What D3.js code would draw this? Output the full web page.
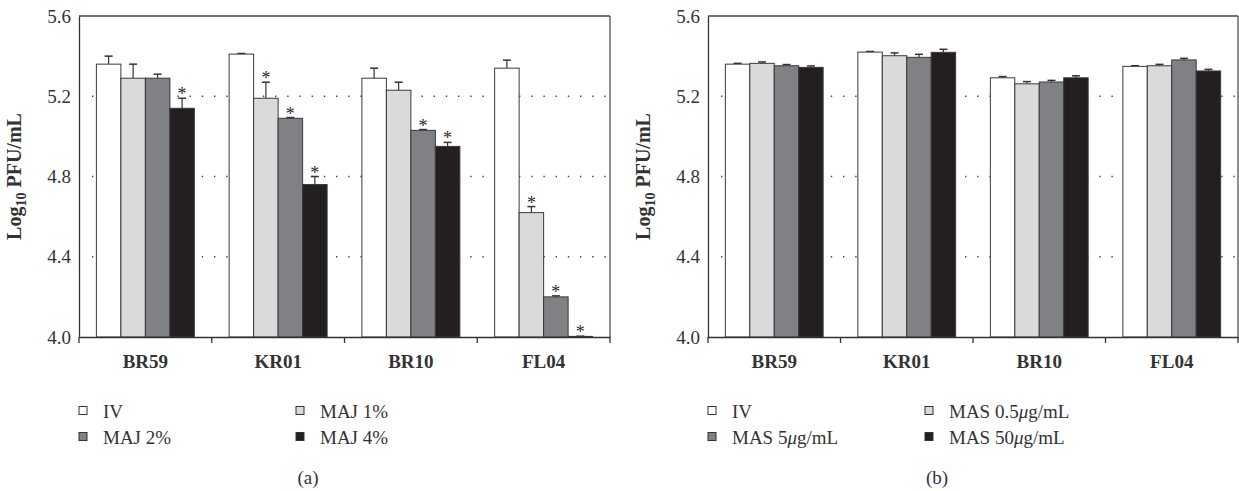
<!DOCTYPE html>
<html>
<head>
<meta charset="utf-8">
<script src="https://cdn.jsdelivr.net/npm/d3@7"></script>
<style>
  body { margin: 0; background: #fff; }
  svg { font-family: "Liberation Serif", "Times New Roman", serif; }
</style>
</head>
<body>
<svg id="chart" width="1239" height="491"></svg>
<script>
// strains on the x axis
var categories = ["BR59", "KR01", "BR10", "FL04"];
var yTicks = [4.0, 4.4, 4.8, 5.2, 5.6];

// panel (a): MAJ treatment
var seriesA = ["IV", "MAJ 1%", "MAJ 2%", "MAJ 4%"];
var valuesA = [
  [5.36, 5.29, 5.29, 5.14],
  [5.41, 5.19, 5.09, 4.76],
  [5.29, 5.23, 5.03, 4.95],
  [5.34, 4.62, 4.20, 4.003]
];
var errorsA = [
  [0.04, 0.07, 0.02, 0.05],
  [0.003, 0.08, 0.004, 0.04],
  [0.05, 0.04, 0.004, 0.02],
  [0.04, 0.03, 0.005, 0.001]
];
var starsA = [
  [0, 0, 0, 1],
  [0, 1, 1, 1],
  [0, 0, 1, 1],
  [0, 1, 1, 1]
];

// panel (b): MAS treatment
var seriesB = ["IV", "MAS 0.5\u03bcg/mL", "MAS 5\u03bcg/mL", "MAS 50\u03bcg/mL"];
var valuesB = [
  [5.360, 5.364, 5.352, 5.344],
  [5.420, 5.402, 5.394, 5.419],
  [5.292, 5.262, 5.271, 5.292],
  [5.349, 5.352, 5.381, 5.326]
];
var errorsB = [
  [0.004, 0.007, 0.006, 0.007],
  [0.003, 0.014, 0.015, 0.015],
  [0.006, 0.011, 0.008, 0.010],
  [0.003, 0.007, 0.008, 0.008]
];

var colors = ["#ffffff", "#d9dadc", "#808184", "#231f20"];

var svg = d3.select("#chart");

function panel(left, right, series, values, errors, stars, caption) {
  var top = 16, bottom = 337;
  var g = svg.append("g");

  var y = d3.scaleLinear().domain([4.0, 5.6]).range([bottom, top]);
  var x0 = d3.scaleBand().domain(categories).range([left, right]);
  var x1 = d3.scaleBand().domain(d3.range(series.length))
    .range([0, x0.bandwidth()]).paddingInner(0).paddingOuter(0.71);

  // dotted grid lines
  g.selectAll(".grid").data(yTicks.slice(1, 4)).enter().append("line")
    .attr("x1", left + 13).attr("x2", right)
    .attr("y1", function (d) { return y(d); })
    .attr("y2", function (d) { return y(d); })
    .attr("stroke", "#444").attr("stroke-width", 1.4)
    .attr("stroke-dasharray", "1.4,10.8");

  // bars
  var groups = g.selectAll(".grp").data(values).enter().append("g")
    .attr("transform", function (d, i) { return "translate(" + x0(categories[i]) + ",0)"; });

  groups.each(function (vals, ci) {
    var gg = d3.select(this);
    vals.forEach(function (v, si) {
      var bx = x1(si), bw = x1.bandwidth();
      var errTop = y(v + errors[ci][si]);
      // error bar
      gg.append("line")
        .attr("x1", bx + bw / 2).attr("x2", bx + bw / 2)
        .attr("y1", y(v)).attr("y2", errTop)
        .attr("stroke", "#333").attr("stroke-width", 1.2);
      gg.append("line")
        .attr("x1", bx + bw / 2 - 4).attr("x2", bx + bw / 2 + 4)
        .attr("y1", errTop).attr("y2", errTop)
        .attr("stroke", "#333").attr("stroke-width", 1.5);
      gg.append("rect")
        .attr("x", bx).attr("width", bw)
        .attr("y", y(v)).attr("height", Math.max(0, bottom - y(v)))
        .attr("fill", colors[si])
        .attr("stroke", "#3a3a3a").attr("stroke-width", 1);
      if (stars && stars[ci][si]) {
        gg.append("text")
          .attr("x", bx + bw / 2).attr("y", errTop + 2)
          .attr("text-anchor", "middle")
          .attr("font-size", 18).attr("fill", "#2a2a2a")
          .text("*");
      }
    });
  });

  // frame: top and right
  g.append("line").attr("x1", left).attr("x2", right).attr("y1", top).attr("y2", top)
    .attr("stroke", "#444").attr("stroke-width", 1.5);
  g.append("line").attr("x1", right).attr("x2", right).attr("y1", top).attr("y2", bottom)
    .attr("stroke", "#444").attr("stroke-width", 1.2);

  // y axis
  var yAxis = d3.axisLeft(y).tickValues(yTicks).tickSize(0).tickPadding(8)
    .tickFormat(d3.format(".1f"));
  var ya = g.append("g").attr("transform", "translate(" + left + ",0)").call(yAxis);
  ya.select(".domain").attr("stroke", "#333").attr("stroke-width", 1.3);
  ya.selectAll("text").attr("font-size", 19).attr("fill", "#333")
    .attr("font-family", "Liberation Serif, serif");

  // x axis
  var xAxis = d3.axisBottom(x0).tickSize(0);
  var xa = g.append("g").attr("transform", "translate(0," + bottom + ")").call(xAxis);
  xa.select(".domain").attr("stroke", "#333").attr("stroke-width", 1.5);
  xa.selectAll("text").attr("font-size", 19).attr("font-weight", "bold").attr("fill", "#333")
    .attr("font-family", "Liberation Serif, serif").attr("y", 31).attr("dy", 0);
  // boundary ticks
  var bounds = categories.map(function (c) { return x0(c); }).concat([right]);
  xa.selectAll(".bt").data(bounds).enter().append("line")
    .attr("x1", function (d) { return d; }).attr("x2", function (d) { return d; })
    .attr("y1", 0).attr("y2", 6).attr("stroke", "#333").attr("stroke-width", 1.3);

  // y title
  var yt = g.append("text")
    .attr("transform", "translate(" + (left - 58) + "," + ((top + bottom) / 2) + ") rotate(-90)")
    .attr("text-anchor", "middle").attr("font-size", 20).attr("font-weight", "bold")
    .attr("fill", "#333");
  yt.append("tspan").text("Log");
  yt.append("tspan").attr("font-size", 14).attr("dy", 5).text("10");
  yt.append("tspan").attr("dy", -5).text(" PFU/mL");

  // legend
  var order = [[0, 2], [1, 3]];
  var cols = [left, left + 217];
  var rows = [411, 437];
  order.forEach(function (col, c) {
    col.forEach(function (si, r) {
      g.append("rect").attr("x", cols[c]).attr("y", rows[r] - 4.5)
        .attr("width", 8).attr("height", 8)
        .attr("fill", colors[si]).attr("stroke", "#333").attr("stroke-width", 1);
      var t = g.append("text").attr("x", cols[c] + 24).attr("y", rows[r] + 6.5)
        .attr("font-size", 19).attr("fill", "#333");
      // the micro sign is set in italics
      series[si].split(/(\u03bc)/).forEach(function (part) {
        if (!part) return;
        t.append("tspan").attr("font-style", part === "\u03bc" ? "italic" : null).text(part);
      });
    });
  });

  g.append("text").attr("x", left + 229).attr("y", 484)
    .attr("text-anchor", "middle").attr("font-size", 19).attr("fill", "#333").text(caption);
}

panel(79, 610, seriesA, valuesA, errorsA, starsA, "(a)");
panel(708, 1238, seriesB, valuesB, errorsB, null, "(b)");
</script>
</body>
</html>
